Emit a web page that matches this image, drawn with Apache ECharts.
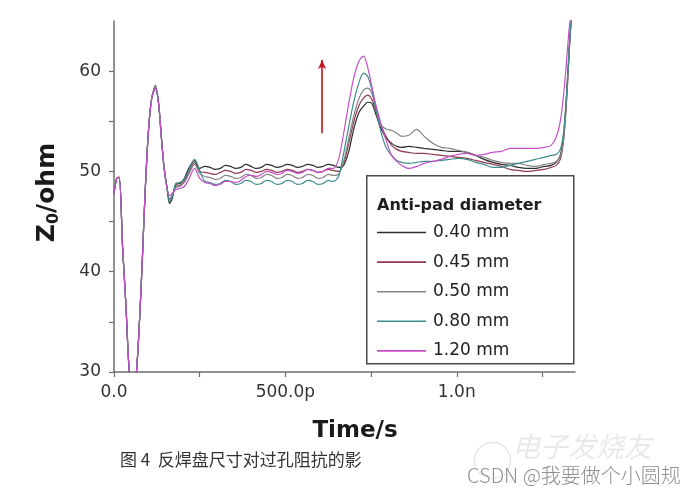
<!DOCTYPE html>
<html>
<head>
<meta charset="utf-8">
<script src="https://cdn.jsdelivr.net/npm/echarts@6/dist/echarts.min.js"></script>
<style>
  html, body { margin: 0; padding: 0; background: #ffffff; }
  #chart { width: 692px; height: 496px; }
</style>
</head>
<body>
<div id="chart"></div>
<script>
// Time axis (ps)
const timePs = [0, 8, 15, 25, 35, 43, 52, 60, 68, 75, 83, 90, 100, 110, 121, 130, 138, 146, 155, 162,
  170, 180, 192, 205, 218, 235, 250, 265, 280, 295, 310, 325, 340, 355, 370, 385, 400, 415, 430, 445,
  460, 475, 490, 505, 520, 535, 550, 565, 580, 595, 610, 625, 640, 655, 670, 685, 700, 715, 728, 740,
  752, 765, 780, 795, 810, 825, 840, 860, 883, 905, 930, 955, 980, 1005, 1030, 1055, 1080, 1105, 1130, 1155,
  1180, 1205, 1230, 1255, 1275, 1290, 1302, 1311, 1318, 1324, 1329, 1334];

// Z0 (ohm) per anti-pad diameter
const z040 = [47.8, 49.3, 49.4, 42.5, 36.5, 30.8, 27.5, 28.0, 31.2, 35.5, 41.5, 47.3, 53.8, 57.3, 58.3, 56.8, 53.5, 50.4, 48.3, 46.8,
  47.3, 48.7, 48.8, 49.3, 50.3, 51.1, 50.3, 50.5, 50.4, 50.2, 50.3, 50.6, 50.5, 50.3, 50.4, 50.7, 50.5, 50.3, 50.4, 50.7,
  50.6, 50.4, 50.5, 50.7, 50.6, 50.4, 50.5, 50.7, 50.6, 50.4, 50.5, 50.7, 50.6, 50.4, 50.6, 52.0, 54.3, 55.9, 56.5, 56.9,
  56.8, 55.6, 54.2, 53.3, 52.8, 52.5, 52.4, 52.5, 52.4, 52.3, 52.2, 52.1, 52.0, 52.0, 51.9, 51.6, 51.2, 50.9, 50.7, 50.6,
  50.4, 50.3, 50.3, 50.5, 50.6, 50.9, 51.6, 53.4, 56.4, 59.8, 62.8, 65.3];
const z045 = [47.8, 49.3, 49.4, 42.5, 36.5, 30.8, 27.5, 28.0, 31.2, 35.5, 41.5, 47.3, 53.8, 57.3, 58.5, 56.8, 53.5, 50.4, 48.3, 47.2,
  47.6, 48.5, 48.6, 49.0, 49.9, 50.9, 50.0, 49.9, 49.8, 49.7, 49.9, 50.1, 50.0, 49.8, 49.9, 50.2, 50.1, 49.9, 50.0, 50.2,
  50.1, 49.9, 50.0, 50.2, 50.1, 49.9, 50.0, 50.2, 50.1, 49.9, 50.0, 50.2, 50.1, 50.0, 50.8, 52.8, 55.0, 56.6, 57.3, 57.6,
  57.2, 56.0, 54.5, 53.4, 52.6, 52.2, 52.0, 51.9, 51.8, 51.8, 51.7, 51.6, 51.5, 51.4, 51.3, 51.1, 50.9, 50.7, 50.5, 50.2,
  50.1, 50.0, 50.1, 50.2, 50.4, 50.6, 51.2, 52.9, 55.8, 59.3, 62.5, 65.2];
const z050 = [47.8, 49.3, 49.4, 42.5, 36.5, 30.8, 27.5, 28.0, 31.2, 35.5, 41.5, 47.3, 53.8, 57.3, 58.6, 56.8, 53.5, 50.4, 48.3, 47.3,
  47.6, 48.4, 48.5, 48.9, 49.7, 50.7, 49.8, 49.5, 49.4, 49.2, 49.3, 49.6, 49.5, 49.3, 49.4, 49.7, 49.6, 49.3, 49.4, 49.7,
  49.6, 49.3, 49.4, 49.7, 49.6, 49.3, 49.4, 49.7, 49.6, 49.3, 49.4, 49.7, 49.6, 49.7, 51.0, 53.3, 55.6, 57.3, 58.1, 58.3,
  57.8, 56.3, 54.6, 54.2, 54.1, 53.8, 53.5, 53.6, 54.2, 53.5, 52.8, 52.4, 52.3, 52.1, 51.9, 51.6, 51.4, 51.1, 50.9, 50.8,
  50.8, 50.6, 50.5, 50.7, 50.8, 51.0, 51.5, 53.0, 55.9, 59.2, 62.4, 65.1];
const z080 = [47.8, 49.3, 49.4, 42.5, 36.5, 30.8, 27.5, 28.0, 31.2, 35.5, 41.5, 47.3, 53.8, 57.3, 58.2, 56.8, 53.5, 50.4, 48.3, 47.0,
  47.5, 48.8, 48.9, 49.2, 50.1, 51.2, 50.1, 49.0, 48.9, 48.7, 48.8, 49.1, 49.0, 48.7, 48.8, 49.1, 49.0, 48.7, 48.8, 49.1,
  49.0, 48.7, 48.8, 49.1, 49.0, 48.7, 48.8, 49.1, 49.0, 48.7, 48.8, 49.1, 49.0, 49.5, 51.8, 54.5, 57.0, 58.9, 59.8, 59.5,
  58.2, 56.0, 53.8, 52.3, 51.6, 51.1, 50.9, 50.8, 50.9, 51.0, 51.0, 51.1, 51.2, 51.3, 51.2, 50.9, 50.7, 50.4, 50.4, 50.6,
  50.8, 51.0, 51.2, 51.4, 51.6, 51.7, 52.2, 53.7, 56.5, 59.7, 62.8, 65.3];
const z120 = [47.8, 49.3, 49.4, 42.5, 36.5, 30.8, 27.5, 28.0, 31.2, 35.5, 41.5, 47.3, 53.8, 57.3, 58.3, 56.8, 53.5, 50.4, 48.3, 47.6,
  47.8, 48.2, 48.3, 48.5, 49.2, 50.3, 49.3, 48.9, 48.8, 48.6, 48.7, 49.0, 49.0, 48.9, 49.1, 49.5, 49.6, 49.5, 49.7, 50.0,
  49.9, 49.7, 49.8, 50.1, 50.0, 49.8, 49.9, 50.2, 50.1, 49.9, 50.0, 50.3, 50.3, 51.2, 53.8, 56.8, 59.4, 61.0, 61.5, 60.4,
  58.5, 56.5, 54.6, 53.0, 51.6, 51.0, 50.6, 50.3, 50.5, 50.8, 51.0, 51.2, 51.5, 51.7, 51.8, 51.6, 51.7, 51.9, 52.0, 52.3,
  52.3, 52.3, 52.3, 52.4, 52.6, 53.4, 55.0, 57.4, 60.0, 62.6, 64.6, 65.5];

const seriesNames = ['0.40 mm', '0.45 mm', '0.50 mm', '0.80 mm', '1.20 mm'];
const seriesColors = ['#2e2e2e', '#8e3a52', '#858585', '#3f8c8c', '#c44fc8'];
const seriesValues = [z040, z045, z050, z080, z120];

const xTickLabels = { 0: '0.0', 500: '500.0p', 1000: '1.0n' };
const yTickLabels = { 30: '30', 40: '40', 50: '50', 60: '60' };

// Red arrow (data coordinates)
const arrowTime = 607;
const arrowFrom = 53.8;
const arrowTo = 61.1;

const chart = echarts.init(document.getElementById('chart'), null, { renderer: 'canvas' });

const series = seriesNames.map((name, k) => ({
  name: name,
  type: 'line',
  symbol: 'none',
  smooth: 0.3,
  clip: true,
  data: timePs.map((t, i) => [t, seriesValues[k][i]]),
  lineStyle: { color: seriesColors[k], width: 1.2 },
  itemStyle: { color: seriesColors[k] },
  z: 2 + k
}));

series[0].markLine = {
  silent: true,
  symbol: ['none', 'arrow'],
  symbolSize: [6, 9],
  label: { show: false },
  lineStyle: { color: '#c4151c', width: 1.6, type: 'solid' },
  data: [[{ coord: [arrowTime, arrowFrom] }, { coord: [arrowTime, arrowTo] }]]
};

const option = {
  animation: false,
  backgroundColor: '#ffffff',
  grid: { left: 114, right: 117, top: 21, bottom: 124 },
  xAxis: {
    type: 'value', min: 0, max: 1345, interval: 250,
    name: 'Time/s', nameLocation: 'middle', nameGap: 48,
    nameTextStyle: { fontFamily: 'DejaVu Sans', fontWeight: 'bold', fontSize: 23, color: '#1a1a1a', padding: [0, 0, 0, 21] },
    axisLine: { lineStyle: { color: '#6e6e6e', width: 1.5 } },
    axisTick: { show: true, length: 5, inside: false, lineStyle: { color: '#6e6e6e', width: 1.2 } },
    axisLabel: {
      margin: 12, fontFamily: 'DejaVu Sans', fontSize: 17, color: '#333',
      formatter: v => (xTickLabels[v] !== undefined ? xTickLabels[v] : ''),
      showMaxLabel: false
    },
    splitLine: { show: false }
  },
  yAxis: {
    type: 'value', min: 30, max: 65, interval: 5,
    name: '{a|Z}{b|0}{a|/ohm}', nameLocation: 'middle', nameGap: 52, nameRotate: 90,
    nameTextStyle: {
      padding: [0, 0, 0, 8],
      rich: {
        a: { fontFamily: 'DejaVu Sans', fontWeight: 'bold', fontSize: 25, color: '#1a1a1a', lineHeight: 30, verticalAlign: 'middle' },
        b: { fontFamily: 'DejaVu Sans', fontWeight: 'bold', fontSize: 16, color: '#1a1a1a', lineHeight: 18, verticalAlign: 'bottom' }
      }
    },
    axisLine: { show: true, lineStyle: { color: '#6e6e6e', width: 1.5 } },
    axisTick: { show: true, length: 5, inside: false, lineStyle: { color: '#6e6e6e', width: 1.2 } },
    axisLabel: {
      margin: 13, fontFamily: 'DejaVu Sans', fontSize: 17, color: '#333',
      formatter: v => (yTickLabels[v] !== undefined ? yTickLabels[v] : ''),
      showMaxLabel: false
    },
    splitLine: { show: false }
  },
  legend: {
    data: seriesNames.map(n => ({ name: n, icon: 'rect' })),
    orient: 'vertical',
    left: 377, top: 224, padding: 0,
    itemWidth: 49, itemHeight: 1.6, itemGap: 12.6,
    selectedMode: false,
    textStyle: { fontFamily: 'DejaVu Sans', fontSize: 17, color: '#222', padding: [0, 0, 0, 2] }
  },
  graphic: [
    { type: 'rect', left: 366, top: 175, z: 1,
      shape: { width: 207, height: 188 },
      style: { fill: '#ffffff', stroke: '#4a4a4a', lineWidth: 1.5 } },
    { type: 'text', left: 377, top: 198, z: 10,
      style: { text: 'Anti-pad diameter', font: 'bold 16px "DejaVu Sans"', fill: '#1e1e1e' } },
    { type: 'text', left: 120, top: 451, z: 10,
      style: { text: '图 4  反焊盘尺寸对过孔阻抗的影', font: '17px "Noto Sans CJK SC"', fill: '#333' } },
    { type: 'text', left: 512, top: 432, z: 9,
      style: { text: '电子发烧友', font: 'italic 28px "Noto Sans CJK SC"', fill: 'rgba(0,0,0,0.09)' } },
    { type: 'circle', left: 472, top: 440, z: 9,
      shape: { r: 18 },
      style: { fill: 'none', stroke: 'rgba(0,0,0,0.10)', lineWidth: 1.5 } },
    { type: 'text', left: 466, top: 464, z: 11,
      style: { text: 'CSDN @我要做个小圆规', font: '300 20px "Noto Sans CJK SC"', fill: '#8f8f8f', stroke: '#ffffff', lineWidth: 2 } }
  ],
  series: series
};

chart.setOption(option);
</script>
</body>
</html>
